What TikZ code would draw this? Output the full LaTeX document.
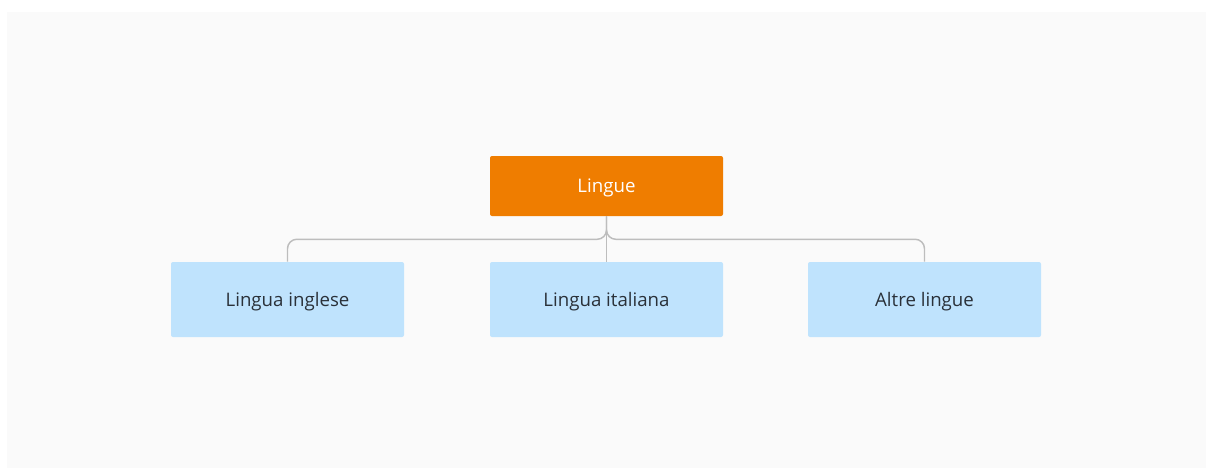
\documentclass[tikz,border=0pt]{standalone}
\usepackage{fontspec}
\setmainfont{Open Sans}
\definecolor{panel}{HTML}{FAFAFA}
\definecolor{orangebox}{HTML}{EF7D00}
\definecolor{bluebox}{HTML}{BFE3FD}
\definecolor{linkgray}{HTML}{BDBDBD}
\definecolor{textdark}{HTML}{2A3139}
\begin{document}
\begin{tikzpicture}[x=0.75pt,y=-0.75pt,
    rootbox/.style={fill=orangebox,rounded corners=1.5pt,minimum width=174.75pt,minimum height=45pt,text depth=0pt,text=white,font=\fontsize{14}{16}\selectfont},
    leafbox/.style={fill=bluebox,rounded corners=1.5pt,minimum width=174.75pt,minimum height=56.25pt,text depth=0pt,text=textdark,font=\fontsize{14}{16}\selectfont},
    link/.style={draw=linkgray,line width=1.1pt,rounded corners=7pt}]
        \useasboundingbox (0,0) rectangle (1206,469);
        %% background
        \fill[panel] (7,12) rectangle (1206,468);
        %% boxes
        \node[rootbox] (lingue) at (606.5,186) {Lingue};
        \foreach \x/\n/\t in {287.5/inglese/Lingua inglese,606.5/italiana/Lingua italiana,924.5/altre/Altre lingue}
            \node[leafbox] (\n) at (\x,299.5) {\t};
        %% links
        \draw[link] (lingue.south) -- (italiana.north);
        \draw[link] (inglese.north) |- ([yshift=-17.25pt]lingue.south) -- (lingue.south);
        \draw[link] (altre.north) |- ([yshift=-17.25pt]lingue.south) -- (lingue.south);
    \end{tikzpicture}
\end{document}
